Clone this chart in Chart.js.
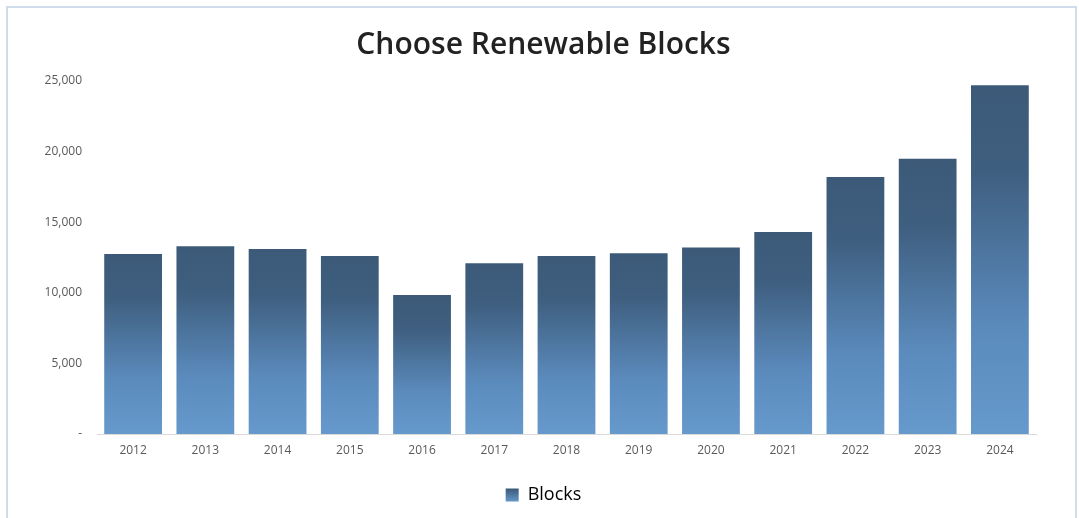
<!DOCTYPE html>
<html>
<head>
<meta charset="utf-8">
<script src="https://cdn.jsdelivr.net/npm/chart.js@4.4.1/dist/chart.umd.min.js"></script>
<style>
    html, body { margin: 0; padding: 0; background: #fff; }
    #wrap { position: relative; width: 1079px; height: 518px; overflow: hidden; }
    #frame {
        position: absolute; left: 6px; top: 6px; width: 1071px; height: 540px;
        border: 2px solid #cfdcec; box-sizing: border-box;
    }
    canvas { position: absolute; left: 0; top: 0; }
</style>
</head>
<body>
<div id="wrap">
    <div id="frame"></div>
    <canvas id="chart" width="1079" height="518"></canvas>
</div>
<script>
// Data
const years = ['2012', '2013', '2014', '2015', '2016', '2017', '2018', '2019', '2020', '2021', '2022', '2023', '2024'];
const blocks = [12750, 13300, 13100, 12600, 9850, 12100, 12600, 12800, 13200, 14300, 18200, 19500, 24700];
const yTicks = [0, 5000, 10000, 15000, 20000, 25000];

Chart.defaults.font.family = "'Open Sans', sans-serif";
Chart.defaults.color = '#595959';

// Vertical gradient for one bar, dark top fading to light blue at the base
function barGradient(ctx, top, bottom) {
    const g = ctx.createLinearGradient(0, top, 0, bottom);
    g.addColorStop(0, '#3c5a78');
    g.addColorStop(0.25, '#3f5f80');
    g.addColorStop(0.7, '#5b8bbd');
    g.addColorStop(1, '#6699cc');
    return g;
}

const ctx = document.getElementById('chart').getContext('2d');

new Chart(ctx, {
    type: 'bar',
    data: {
        labels: years,
        datasets: [{
            label: 'Blocks',
            data: blocks,
            backgroundColor: function(c) {
                const chart = c.chart;
                const y = chart.scales && chart.scales.y;
                if (!y || c.raw === undefined) return '#4f77a2';
                return barGradient(chart.ctx, y.getPixelForValue(c.raw), y.getPixelForValue(0));
            },
            borderWidth: 0,
            categoryPercentage: 0.8,
            barPercentage: 1.0
        }]
    },
    options: {
        responsive: false,
        animation: false,
        layout: { padding: { left: 8, right: 0, top: 0, bottom: 4 } },
        plugins: {
            title: {
                display: true,
                text: 'Choose Renewable Blocks',
                color: '#222222',
                font: { size: 30, weight: '600' },
                padding: { top: 27, bottom: 18 }
            },
            legend: {
                position: 'bottom',
                labels: {
                    boxWidth: 13,
                    boxHeight: 13,
                    font: { size: 18 },
                    color: '#595959',
                    generateLabels: function(chart) {
                        const g = chart.ctx.createLinearGradient(0, 489, 0, 502);
                        g.addColorStop(0, '#3c5a78');
                        g.addColorStop(1, '#6699cc');
                        return [{
                            text: 'Blocks',
                            fillStyle: g,
                            strokeStyle: 'rgba(0,0,0,0)',
                            lineWidth: 0,
                            datasetIndex: 0
                        }];
                    }
                }
            },
            tooltip: { enabled: false }
        },
        scales: {
            x: {
                grid: { display: false },
                border: { color: '#d9d9d9', width: 1 },
                ticks: { font: { size: 12 }, color: '#595959', padding: 1 },
                afterFit: function(axis) { axis.height = 42; }
            },
            y: {
                min: 0,
                max: 25000,
                afterBuildTicks: function(axis) {
                    axis.ticks = yTicks.map(v => ({ value: v }));
                },
                afterFit: function(axis) { axis.width = 89; },
                grid: { display: false },
                border: { display: false },
                ticks: {
                    font: { size: 12 },
                    color: '#595959',
                    padding: 7,
                    callback: function(v) { return v === 0 ? '-' : v.toLocaleString('en-US'); }
                }
            },
            // empty right-hand axis, only reserves the margin right of the plot
            yRight: {
                position: 'right',
                min: 0,
                max: 25000,
                grid: { display: false },
                border: { display: false },
                ticks: { display: false },
                afterFit: function(axis) { axis.width = 43; }
            }
        }
    }
});
</script>
</body>
</html>
